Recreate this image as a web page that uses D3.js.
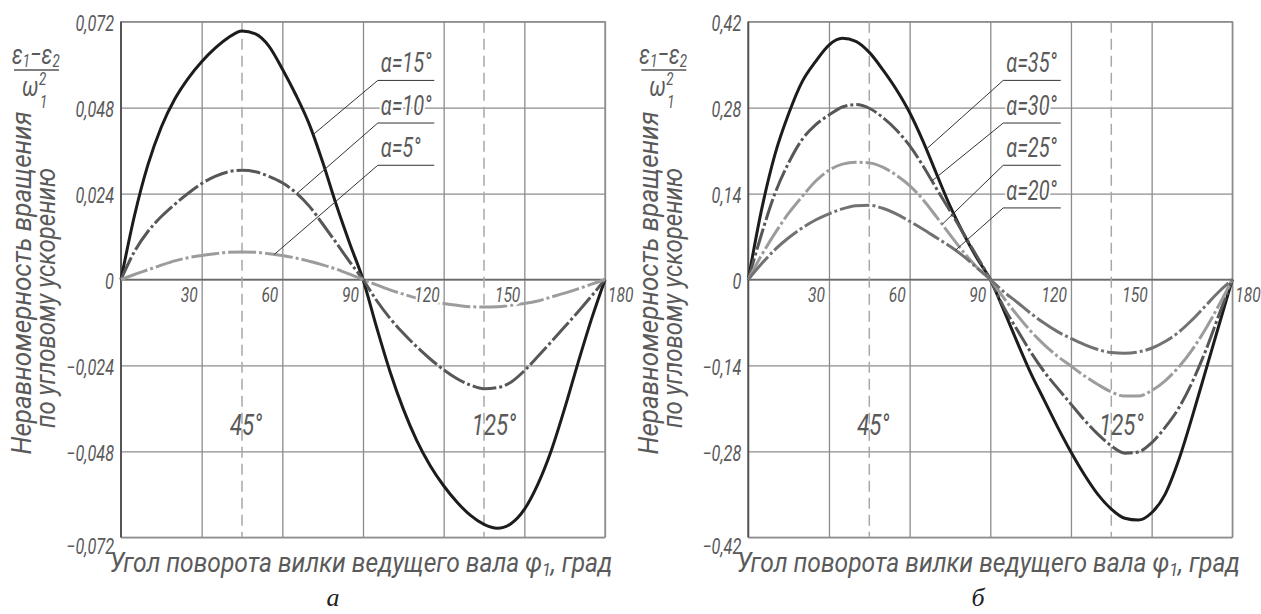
<!DOCTYPE html>
<html>
<head>
<meta charset="utf-8">
<script src="https://cdn.jsdelivr.net/npm/d3@7"></script>
<style>
  body { margin: 0; background: #fff; }
  text {
    font-family: Roboto, "DejaVu Sans", sans-serif;
    font-weight: 400;
    font-style: italic;
    fill: #5a5a5a;
  }
  .halo { paint-order: stroke; stroke: #fff; stroke-linejoin: round; }
  .letter { font-family: "Liberation Serif", "DejaVu Serif", serif; fill: #222; }
</style>
</head>
<body>
<div id="canvas"></div>
<script>
// angle of the driving shaft fork, degrees
const phi = [0, 5, 10, 15, 20, 25, 30, 35, 40, 45, 50, 55, 60, 65, 70, 75, 80, 85, 90,
  95, 100, 105, 110, 115, 120, 125, 130, 135, 140, 145, 150, 155, 160, 165, 170, 175, 180];

// panel a
const a15 = [0, 0.0178, 0.032, 0.0426, 0.0504, 0.0562, 0.0608, 0.0646, 0.0676, 0.0694, 0.0686, 0.0652, 0.0588, 0.0516, 0.0434, 0.0328, 0.021, 0.0102, 0,
  -0.0132, -0.0256, -0.0362, -0.045, -0.052, -0.0576, -0.0622, -0.0659, -0.0684, -0.0695, -0.0682, -0.0642, -0.0572, -0.0478, -0.036, -0.0232, -0.011, 0];
const a10 = [0, 0.0078, 0.0134, 0.0176, 0.021, 0.0241, 0.0268, 0.0288, 0.0301, 0.0305, 0.0301, 0.0288, 0.027, 0.0243, 0.0205, 0.0155, 0.0103, 0.005, 0,
  -0.0058, -0.0108, -0.015, -0.0188, -0.0222, -0.0252, -0.0277, -0.0295, -0.0305, -0.0302, -0.0287, -0.0255, -0.0215, -0.0174, -0.0132, -0.009, -0.0046, 0];
const a5 = [0, 0.0014, 0.0027, 0.004, 0.0052, 0.0061, 0.0067, 0.0072, 0.0076, 0.0077, 0.0076, 0.0072, 0.0067, 0.006, 0.0051, 0.0041, 0.0029, 0.0015, 0,
  -0.0015, -0.0029, -0.0041, -0.0052, -0.0061, -0.0067, -0.0072, -0.0076, -0.0077, -0.0076, -0.0072, -0.0067, -0.006, -0.0049, -0.0038, -0.0026, -0.0013, 0];

// panel b
const a35 = [0, 0.115, 0.205, 0.27, 0.322, 0.355, 0.382, 0.393, 0.388, 0.37, 0.342, 0.31, 0.272, 0.225, 0.172, 0.12, 0.075, 0.035, 0,
  -0.05, -0.102, -0.152, -0.196, -0.24, -0.281, -0.318, -0.35, -0.374, -0.389, -0.392, -0.38, -0.35, -0.295, -0.225, -0.15, -0.075, 0];
const a30 = [0, 0.075, 0.141, 0.19, 0.228, 0.252, 0.268, 0.281, 0.285, 0.279, 0.264, 0.244, 0.218, 0.185, 0.148, 0.112, 0.075, 0.038, 0,
  -0.045, -0.082, -0.118, -0.15, -0.177, -0.203, -0.229, -0.252, -0.271, -0.283, -0.281, -0.266, -0.241, -0.21, -0.168, -0.117, -0.058, 0];
const a25 = [0, 0.04, 0.076, 0.108, 0.135, 0.16, 0.178, 0.188, 0.191, 0.19, 0.183, 0.17, 0.153, 0.13, 0.102, 0.073, 0.045, 0.02, 0,
  -0.03, -0.058, -0.084, -0.106, -0.125, -0.141, -0.157, -0.171, -0.183, -0.19, -0.19, -0.181, -0.165, -0.143, -0.115, -0.081, -0.042, 0];
const a20 = [0, 0.026, 0.049, 0.068, 0.084, 0.097, 0.107, 0.115, 0.12, 0.121, 0.116, 0.107, 0.095, 0.082, 0.068, 0.054, 0.038, 0.019, 0,
  -0.02, -0.037, -0.055, -0.071, -0.085, -0.096, -0.106, -0.114, -0.119, -0.12, -0.118, -0.112, -0.101, -0.086, -0.066, -0.043, -0.02, 0];

const xTicks = [30, 60, 90, 120, 150, 180];
const xLabels = ["30", "60", "90", "120", "150", "180"];
const yTicksA = [-0.072, -0.048, -0.024, 0, 0.024, 0.048, 0.072];
const yLabelsA = ["−0,072", "−0,048", "−0,024", "0", "0,024", "0,048", "0,072"];
const yTicksB = [-0.42, -0.28, -0.14, 0, 0.14, 0.28, 0.42];
const yLabelsB = ["−0,42", "−0,28", "−0,14", "0", "0,14", "0,28", "0,42"];
const namesA = ["α=15°", "α=10°", "α=5°"];
const namesB = ["α=35°", "α=30°", "α=25°", "α=20°"];
const markAngles = [45, 135];
const markLabels = ["45°", "125°"];

const width = 1261, height = 614;
const plotTop = 21.7, plotBottom = 537.3, pw = 484;
const squeeze = 0.74; // narrow drafting lettering

const svg = d3.select("#canvas").append("svg")
  .attr("width", width).attr("height", height);

const panels = [
  {
    left: 121, ymax: 0.072, yTicks: yTicksA, yLabels: yLabelsA,
    series: [
      { name: namesA[0], v: a15, color: "#1c1c1c", dash: null, lead: 71.4, ly: 0.0556 },
      { name: namesA[1], v: a10, color: "#575757", dash: "24,3,3,3", lead: 65.4, ly: 0.0437 },
      { name: namesA[2], v: a5, color: "#9c9c9c", dash: "28,3,3,3", lead: 57, ly: 0.0319 }
    ],
    legendFrom: 95.5, legendTo: 116.5
  },
  {
    left: 748.3, ymax: 0.42, yTicks: yTicksB, yLabels: yLabelsB,
    series: [
      { name: namesB[0], v: a35, color: "#1c1c1c", dash: null, lead: 66.2, ly: 0.3244 },
      { name: namesB[1], v: a30, color: "#575757", dash: "22,3,3,3", lead: 68.3, ly: 0.2549 },
      { name: namesB[2], v: a25, color: "#9c9c9c", dash: "26,3,3,3", lead: 72.1, ly: 0.1861 },
      { name: namesB[3], v: a20, color: "#727272", dash: "30,3,3,3", lead: 77, ly: 0.1166 }
    ],
    legendFrom: 94.8, legendTo: 116.2
  }
];

function valueAt(v, a) {
  const i = Math.min(phi.length - 2, Math.floor(a / 5));
  const t = (a - phi[i]) / (phi[i + 1] - phi[i]);
  return v[i] + t * (v[i + 1] - v[i]);
}

panels.forEach((p) => {
  const x = d3.scaleLinear().domain([0, 180]).range([p.left, p.left + pw]);
  const y = d3.scaleLinear().domain([-p.ymax, p.ymax]).range([plotBottom, plotTop]);
  const g = svg.append("g");

  // vertical grid
  g.append("g")
    .attr("transform", `translate(0,${plotBottom})`)
    .call(d3.axisBottom(x).tickValues(xTicks).tickSize(-(plotBottom - plotTop)).tickFormat(""))
    .call((s) => s.select(".domain").remove())
    .call((s) => s.selectAll("line").attr("stroke", "#8c8c8c").attr("stroke-width", 1.3));

  // horizontal grid and y labels
  g.append("g")
    .attr("transform", `translate(${p.left},0)`)
    .call(d3.axisLeft(y).tickValues(p.yTicks).tickSize(-pw).tickPadding(7)
      .tickFormat((d, i) => p.yLabels[i]))
    .call((s) => s.select(".domain").remove())
    .call((s) => s.selectAll("line").attr("stroke", "#8c8c8c").attr("stroke-width", 1.3))
    .call((s) => s.selectAll("text").attr("font-size", 22)
      .attr("dy", (d) => (d === -p.ymax ? "0.75em" : "0.42em")));

  // frame, axis and zero line
  g.append("rect")
    .attr("x", x(0)).attr("y", y(p.ymax))
    .attr("width", x(180) - x(0)).attr("height", y(-p.ymax) - y(p.ymax))
    .attr("fill", "none").attr("stroke", "#8c8c8c").attr("stroke-width", 1.3);
  g.append("line")
    .attr("x1", x(0)).attr("x2", x(180)).attr("y1", y(0)).attr("y2", y(0))
    .attr("stroke", "#6a6a6a").attr("stroke-width", 1.6);
  g.append("line")
    .attr("x1", x(0)).attr("x2", x(0)).attr("y1", y(p.ymax)).attr("y2", y(-p.ymax))
    .attr("stroke", "#555").attr("stroke-width", 2);

  // dashed marks
  g.selectAll(".mark").data(markAngles).join("line")
    .attr("x1", (d) => x(d)).attr("x2", (d) => x(d))
    .attr("y1", y(p.ymax)).attr("y2", y(-p.ymax))
    .attr("stroke", "#a8a8a8").attr("stroke-width", 1.5).attr("stroke-dasharray", "11,6");
  g.selectAll(".marklbl").data(markAngles).join("text")
    .attr("x", (d, i) => x(d) + (i === 0 ? 4 : 10))
    .attr("y", y(-p.ymax * 0.604))
    .attr("text-anchor", "middle").attr("font-size", 30)
    .text((d, i) => markLabels[i]);

  // curves
  const line = d3.line()
    .x((d, i) => x(phi[i]))
    .y((d) => y(d))
    .curve(d3.curveMonotoneX);
  g.selectAll(".curve").data(p.series).join("path")
    .attr("d", (s) => line(s.v))
    .attr("fill", "none")
    .attr("stroke", (s) => s.color)
    .attr("stroke-width", 3)
    .attr("stroke-dasharray", (s) => s.dash);

  // x labels at zero line
  g.selectAll(".xlbl").data(xTicks).join("text")
    .attr("class", "halo")
    .attr("stroke-width", 6)
    .attr("x", (d) => (d === 180 ? x(d) + 3 : x(d) - 4))
    .attr("y", y(0) + 22)
    .attr("text-anchor", (d) => (d === 180 ? "start" : "end"))
    .attr("font-size", 21)
    .text((d, i) => xLabels[i]);

  // leaders and legend labels
  const lg = g.selectAll(".lg").data(p.series).join("g");
  lg.append("line")
    .attr("x1", x(p.legendFrom)).attr("x2", (s) => x(s.lead))
    .attr("y1", (s) => y(s.ly)).attr("y2", (s) => y(valueAt(s.v, s.lead)))
    .attr("stroke", "#333").attr("stroke-width", 1);
  lg.append("line")
    .attr("x1", x(p.legendFrom)).attr("x2", x(p.legendTo))
    .attr("y1", (s) => y(s.ly)).attr("y2", (s) => y(s.ly))
    .attr("stroke", "#333").attr("stroke-width", 1);
  lg.append("text")
    .attr("class", "halo").attr("stroke-width", 5)
    .attr("x", x(p.legendFrom) + 3)
    .attr("y", (s) => y(s.ly) - 8)
    .attr("font-size", 27)
    .text((s) => s.name);

  // y title (rotated)
  const yt = [
    { t: "Неравномерность вращения", dx: -90, cy: 283, len: 343 },
    { t: "по угловому ускорению", dx: -66, cy: 298, len: 260 }
  ];
  g.selectAll(".ytitle").data(yt).join("text")
    .attr("transform", (d) => `translate(${p.left + d.dx},${d.cy}) rotate(-90)`)
    .attr("text-anchor", "middle").attr("font-size", 27)
    .attr("textLength", (d) => d.len).attr("lengthAdjust", "spacingAndGlyphs")
    .text((d) => d.t);

  // fraction (e1 - e2) / w1^2
  const fx = p.left - 109;
  const num = g.append("text").attr("x", fx).attr("y", 64).attr("font-size", 28);
  num.append("tspan").text("ε");
  num.append("tspan").attr("font-size", 18).attr("dy", 3).text("1");
  num.append("tspan").attr("dy", -3).text("−ε");
  num.append("tspan").attr("font-size", 18).attr("dy", 3).text("2");
  g.append("line")
    .attr("x1", fx + 2).attr("x2", fx + 47).attr("y1", 70).attr("y2", 70)
    .attr("stroke", "#555").attr("stroke-width", 1.3);
  g.append("text").attr("x", fx + 10).attr("y", 96).attr("font-size", 28).text("ω");
  g.append("text").attr("x", fx + 27).attr("y", 85).attr("font-size", 18).text("2");
  g.append("text").attr("x", fx + 28).attr("y", 108).attr("font-size", 18).text("1");

  // x title
  const xt = g.append("text")
    .attr("x", p.left + 240).attr("y", 572)
    .attr("text-anchor", "middle").attr("font-size", 27)
    .attr("textLength", 503).attr("lengthAdjust", "spacingAndGlyphs");
  xt.append("tspan").text("Угол поворота вилки ведущего вала φ");
  xt.append("tspan").attr("font-size", 18).attr("dy", 4).text("1");
  xt.append("tspan").attr("dy", -4).text(", град");
});

svg.selectAll(".letter").data(["а", "б"]).join("text")
  .attr("class", "letter")
  .attr("x", (d, i) => (i === 0 ? 333 : 978))
  .attr("y", 606)
  .attr("text-anchor", "middle").attr("font-size", 26)
  .text((d) => d);

// narrow all lettering except the panel letters
svg.selectAll("text").filter(function () {
  return !this.classList.contains("letter") && !this.hasAttribute("textLength");
}).each(function () {
  const len = this.getComputedTextLength();
  d3.select(this).attr("textLength", len * squeeze).attr("lengthAdjust", "spacingAndGlyphs");
});
</script>
</body>
</html>
